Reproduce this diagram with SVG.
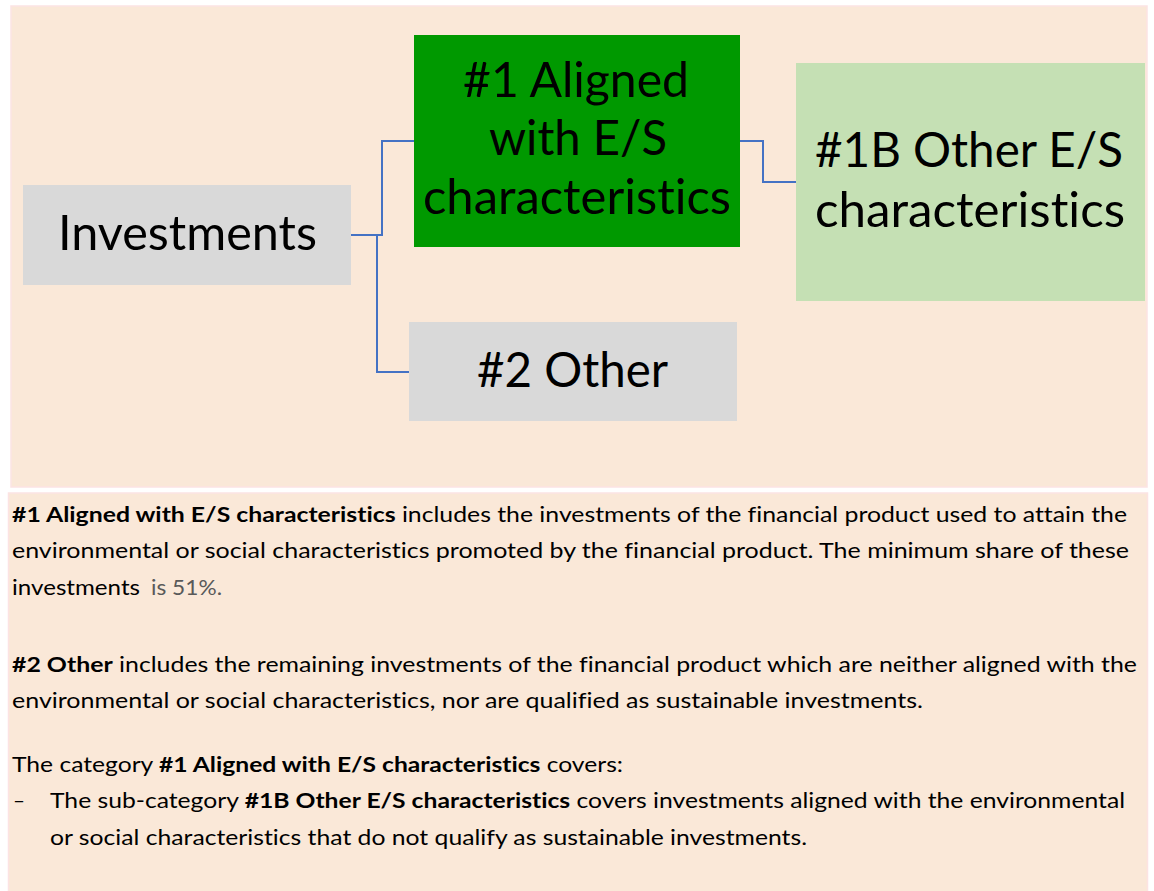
<svg xmlns="http://www.w3.org/2000/svg" width="1154" height="891" viewBox="0 0 1154 891">
<style>
.panel{fill:#FAE8D8;stroke:#FCE3E3;stroke-width:1.5}
.big{font-family:Lato,"Open Sans","Noto Sans",sans-serif;font-size:48px;fill:#000;font-variant-ligatures:none}
.body{font-family:Lato,"Open Sans","Noto Sans",sans-serif;font-size:21px;fill:#000;font-variant-ligatures:none}
.b{font-weight:bold}
.gray{fill:#595959}
.conn{fill:none;stroke:#4472C4;stroke-width:2}
</style>
<rect width="1154" height="891" fill="#ffffff"/>
<rect class="panel" x="11" y="6" width="1136" height="481"/>
<rect class="panel" x="8.5" y="493" width="1139" height="400"/>
<g id="connectors">
<path class="conn" d="M351 235 H382 V141 H414"/>
<path class="conn" d="M351 235 H377 V372 H409"/>
<path class="conn" d="M740 141 H763 V182 H796"/>
</g>
<g id="node-investments">
<rect x="23" y="185" width="328" height="100" fill="#D9D9D9"/>
<text class="big" x="58" y="250" textLength="259" lengthAdjust="spacingAndGlyphs">Investments</text>
</g>
<g id="node-aligned">
<rect x="414" y="35" width="326" height="212" fill="#009900"/>
<text class="big" x="463" y="97" textLength="226" lengthAdjust="spacingAndGlyphs">#1 Aligned</text>
<text class="big" x="489" y="155" textLength="178" lengthAdjust="spacingAndGlyphs">with E/S</text>
<text class="big" x="423" y="214" textLength="308" lengthAdjust="spacingAndGlyphs">characteristics</text>
</g>
<g id="node-other-es">
<rect x="796" y="63" width="349" height="238" fill="#C5E0B4"/>
<text class="big" x="815" y="167" textLength="308" lengthAdjust="spacingAndGlyphs">#1B Other E/S</text>
<text class="big" x="815" y="227" textLength="310" lengthAdjust="spacingAndGlyphs">characteristics</text>
</g>
<g id="node-other">
<rect x="409" y="322" width="328" height="99" fill="#D9D9D9"/>
<text class="big" x="477" y="387" textLength="191" lengthAdjust="spacingAndGlyphs">#2 Other</text>
</g>
<g id="description">
<text class="body" x="12" y="521.7" textLength="1115" lengthAdjust="spacingAndGlyphs"><tspan class="b">#1 Aligned with E/S characteristics</tspan> includes the investments of the financial product used to attain the</text>
<text class="body" x="12" y="558.3" textLength="1117" lengthAdjust="spacingAndGlyphs">environmental or social characteristics promoted by the financial product. The minimum share of these</text>
<text class="body" x="12" y="595" textLength="128" lengthAdjust="spacingAndGlyphs">investments</text>
<text class="body gray" x="151" y="595" textLength="71" lengthAdjust="spacingAndGlyphs">is 51%.</text>
<text class="body" x="12" y="671.7" textLength="1125" lengthAdjust="spacingAndGlyphs"><tspan class="b">#2 Other</tspan> includes the remaining investments of the financial product which are neither aligned with the</text>
<text class="body" x="12" y="708.3" textLength="911" lengthAdjust="spacingAndGlyphs">environmental or social characteristics, nor are qualified as sustainable investments.</text>
<text class="body" x="12" y="771.7" textLength="611" lengthAdjust="spacingAndGlyphs">The category <tspan class="b">#1 Aligned with E/S characteristics</tspan> covers:</text>
<text class="body" x="13" y="808.3" textLength="12" lengthAdjust="spacingAndGlyphs">–</text>
<text class="body" x="50" y="808.3" textLength="1075" lengthAdjust="spacingAndGlyphs">The sub-category <tspan class="b">#1B Other E/S characteristics</tspan> covers investments aligned with the environmental</text>
<text class="body" x="50" y="845" textLength="757" lengthAdjust="spacingAndGlyphs">or social characteristics that do not qualify as sustainable investments.</text>
</g>
</svg>
